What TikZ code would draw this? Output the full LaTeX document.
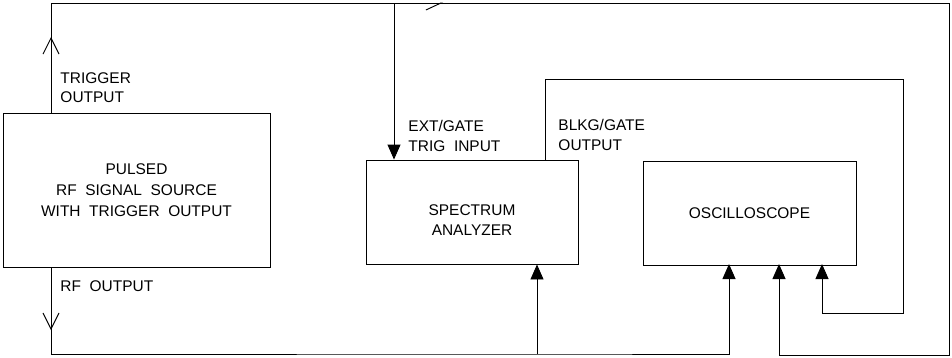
\documentclass[tikz,border=0pt]{standalone}
\usepackage{fontspec}
\setmainfont{Liberation Sans}
\usetikzlibrary{arrows.meta,decorations.markings}

\begin{document}
\begin{tikzpicture}[x=0.75pt, y=-0.75pt, line width=0.7pt,
        blocco/.style={draw, inner sep=0pt},
        etichetta/.style={inner sep=0pt, align=left, font=\fontsize{11.6}{14.5}\selectfont},
        freccia/.style={-{Triangle[length=11.25pt, width=9.75pt]}}]
        \useasboundingbox (0,0) rectangle (952,357);

        % Blocchi
        \node[blocco, minimum width=200.25pt, minimum height=115.5pt, align=center,
              font=\fontsize{11.6}{15.75}\selectfont] (source) at (136.5,190)
            {PULSED\\RF\ \ SIGNAL\ \ SOURCE\\WITH\ \ TRIGGER\ \ OUTPUT};
        \node[blocco, minimum width=159pt, minimum height=78pt] (analyzer) at (472,212) {};
        \node[etichetta, align=center] (satext) at (472,220) {SPECTRUM\\ANALYZER};
        \node[blocco, minimum width=159.75pt, minimum height=78pt,
              font=\fontsize{11.6}{14.5}\selectfont] (scope) at (749.5,213) {OSCILLOSCOPE};

        % Punti di collegamento
        \coordinate (trigout) at (51,113);
        \coordinate (rfout) at (51,267);
        \coordinate (trigne) at (949,3);
        \coordinate (trigse) at (949,355);
        \coordinate (trigbranch) at (394,3);
        \coordinate (rfbranch) at (537,354);
        \coordinate (blkgout) at (545,160);
        \coordinate (blkgne) at (903,79);
        \coordinate (blkgse) at (903,313);
        \coordinate (scopein1) at (729,264);
        \coordinate (scopein2) at (779,264);
        \coordinate (scopein3) at (822,264);

        % Uscita trigger
        \draw[freccia, postaction={decorate, decoration={markings,
                mark=at position 57pt with {\arrow{Straight Barb[length=12pt, width=12pt]}},
                mark=at position 376.5pt with {\arrow{Straight Barb[harpoon, swap, length=11.25pt, width=10.5pt]}}}}]
            (trigout) |- (trigne) -- (trigse) -| (scopein2);
        \draw[freccia] (trigbranch) -- (trigbranch |- analyzer.north);

        % Uscita RF
        \draw[freccia, postaction={decorate, decoration={markings,
                mark=at position 47.25pt with {\arrow{Straight Barb[length=12pt, width=12pt]}}}}]
            (rfout) |- (rfbranch) -| (scopein1);
        \draw[freccia] (rfbranch) -- (rfbranch |- analyzer.south);

        % Uscita BLKG/GATE
        \draw[freccia] (blkgout) |- (blkgne) -- (blkgse) -| (scopein3);

        % Etichette
        \node[etichetta, anchor=west] (triglabel) at (60,88) {TRIGGER\\OUTPUT};
        \node[etichetta, anchor=west] (rflabel) at (60,286) {RF\ \ OUTPUT};
        \node[etichetta, anchor=west] (extlabel) at (408,136) {EXT/GATE\\TRIG\ \ INPUT};
        \node[etichetta, anchor=west] (blkglabel) at (558,135) {BLKG/GATE\\OUTPUT};
\end{tikzpicture}
\end{document}
